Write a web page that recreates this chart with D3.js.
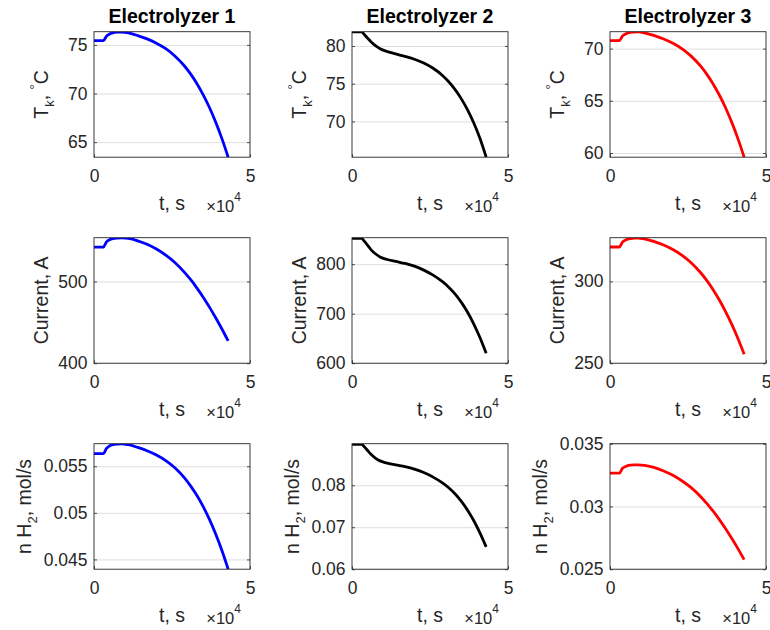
<!DOCTYPE html>
<html>
<head>
<meta charset="utf-8">
<script src="https://cdn.jsdelivr.net/npm/d3@7"></script>
<style>
  body { margin: 0; background: #fff; }
  svg { display: block; font-family: "Liberation Sans", Arial, Helvetica, sans-serif; }
</style>
</head>
<body>
<svg id="fig" width="770" height="630"></svg>
<script>
// Operating time, s
const time = [0, 3000, 4000, 5000, 6000, 7500, 9000, 11000, 14000, 17000, 20000,
              23000, 26000, 29000, 31000, 33000, 35000, 37000, 39000, 41000, 43000];

const electrolyzers = ["Electrolyzer 1", "Electrolyzer 2", "Electrolyzer 3"];

// Stack temperature T_k, °C
const tempE1 = [75.44, 75.44, 75.9, 76.12, 76.24, 76.31, 76.33, 76.23, 75.96, 75.62, 75.18,
                74.61, 73.84, 72.83, 71.99, 71.01, 69.87, 68.56, 67.06, 65.36, 63.45];
const tempE2 = [81.87, 81.87, 81.5, 81.05, 80.6, 80.05, 79.65, 79.3, 78.95, 78.62, 78.25,
                77.75, 77.05, 76.1, 75.26, 74.24, 73.02, 71.56, 69.82, 67.76, 65.26];
const tempE3 = [70.77, 70.77, 71.2, 71.4, 71.52, 71.58, 71.6, 71.51, 71.26, 70.94, 70.53,
                70.0, 69.28, 68.34, 67.56, 66.64, 65.58, 64.36, 62.96, 61.38, 59.6];

// Stack current, A
const currentE1 = [542, 542, 548.5, 551.0, 552.3, 553.0, 553.2, 552.6, 549.7, 545.4, 539.6,
                   532.1, 522.8, 511.1, 502.1, 491.9, 480.7, 468.6, 455.6, 441.8, 427.2];
const currentE2 = [852, 852, 846, 838, 830, 821, 814.5, 810, 805.5, 801.5, 796,
                   788, 777.8, 764.6, 753.6, 740, 723.4, 703.4, 679.6, 651.8, 620];
const currentE3 = [321.03, 321.03, 324.02, 325.31, 326.0, 326.39, 326.5, 326.03, 324.49, 322.4, 319.63,
                   316.06, 311.41, 305.43, 300.63, 295.09, 288.79, 281.73, 273.84, 265.11, 255.5];

// Hydrogen production rate n H2, mol/s
const h2E1 = [0.05635, 0.05635, 0.05691, 0.05719, 0.05732, 0.05739, 0.05741, 0.05731, 0.05702, 0.05667, 0.05621,
              0.05561, 0.05481, 0.05375, 0.05287, 0.05185, 0.05066, 0.04929, 0.04772, 0.04595, 0.04395];
const h2E2 = [0.08976, 0.08976, 0.08913, 0.08828, 0.08744, 0.08649, 0.08581, 0.08533, 0.08486, 0.08444, 0.08386,
              0.08302, 0.08194, 0.08055, 0.07939, 0.07796, 0.07621, 0.0741, 0.0716, 0.06867, 0.06532];
const h2E3 = [0.03265, 0.03265, 0.03304, 0.03319, 0.03327, 0.03331, 0.03332, 0.03328, 0.03311, 0.03285, 0.0325,
              0.03205, 0.0315, 0.0308, 0.03025, 0.02964, 0.02897, 0.02824, 0.02746, 0.02664, 0.02576];

// Axis limits and ticks
const timeLimits = [0, 50000];
const timeTicks = [0, 50000];
const tempLimits = [[63.45, 76.36], [65.25, 81.9], [59.6, 71.62]];
const tempTicks = [[65, 70, 75], [70, 75, 80], [60, 65, 70]];
const currentLimits = [[400, 553.5], [600, 853.5], [250, 326.7]];
const currentTicks = [[400, 500], [600, 700, 800], [250, 300]];
const h2Limits = [[0.04395, 0.05742], [0.06, 0.0899], [0.025, 0.035]];
const h2Ticks = [[0.045, 0.05, 0.055], [0.06, 0.07, 0.08], [0.025, 0.03, 0.035]];

// Styling
const lineColors = ["#0000ff", "#000000", "#ff0000"];
const INK = "#262626";
const GRID = "#dedede";
const W = 156, H = 125.5;
const colLeft = c => 94 + c * 258;
const rowTop = r => 31.7 + r * 206;
const TICK_FS = 17.5, LABEL_FS = 19.5, SUB_FS = 13;

// y-axis label builders (TeX-like sub/superscripts)
function labelTemp(t) {
  t.append("tspan").text("T");
  t.append("tspan").attr("font-size", SUB_FS).attr("dy", 6).text("k");
  t.append("tspan").attr("dy", -6).text(", ");
  t.append("tspan").attr("font-size", SUB_FS).attr("dy", -9).text("°");
  t.append("tspan").attr("dy", 9).text("C");
}
function labelCurrent(t) {
  t.text("Current, A");
}
function labelH2(t) {
  t.append("tspan").text("n H");
  t.append("tspan").attr("font-size", SUB_FS).attr("dy", 6).text("2");
  t.append("tspan").attr("dy", -6).text(", mol/s");
}

const quantities = [
  { series: [tempE1, tempE2, tempE3], limits: tempLimits, ticks: tempTicks, label: labelTemp, gap: 20 },
  { series: [currentE1, currentE2, currentE3], limits: currentLimits, ticks: currentTicks, label: labelCurrent, gap: 10 },
  { series: [h2E1, h2E2, h2E3], limits: h2Limits, ticks: h2Ticks, label: labelH2, gap: 12.5 }
];

const svg = d3.select("#fig");
const x = d3.scaleLinear().domain(timeLimits).range([0, W]);

function styleAxis(a) {
  a.attr("font-size", null).attr("font-family", null);
  a.select(".domain").remove();
  a.selectAll("line").attr("stroke", INK).attr("stroke-width", 0.8);
  a.selectAll("text").attr("fill", INK).style("font-size", TICK_FS + "px");
}

quantities.forEach((q, r) => {
  electrolyzers.forEach((name, c) => {
    const g = svg.append("g").attr("transform", `translate(${colLeft(c)},${rowTop(r)})`);
    const y = d3.scaleLinear().domain(q.limits[c]).range([H, 0]);
    const clipId = `clip-${r}-${c}`;

    g.append("clipPath").attr("id", clipId)
      .append("rect").attr("width", W).attr("height", H);

    // horizontal grid
    g.append("g")
      .call(d3.axisLeft(y).tickValues(q.ticks[c]).tickSize(-W).tickFormat(""))
      .call(a => {
        a.select(".domain").remove();
        a.selectAll("line").attr("stroke", GRID).attr("stroke-width", 1);
      });

    // data curve
    const line = d3.line()
      .x((d, i) => x(time[i]))
      .y(d => y(d))
      .curve(d3.curveMonotoneX);
    g.append("path")
      .datum(q.series[c])
      .attr("clip-path", `url(#${clipId})`)
      .attr("fill", "none")
      .attr("stroke", lineColors[c])
      .attr("stroke-width", 2.8)
      .attr("stroke-linejoin", "round")
      .attr("d", line);

    // axes box
    g.append("rect").attr("width", W).attr("height", H)
      .attr("fill", "none").attr("stroke", INK).attr("stroke-width", 0.9);

    // y axis (inward ticks) with labels, plus mirrored right ticks
    const yAxis = g.append("g")
      .call(d3.axisLeft(y).tickValues(q.ticks[c]).tickSize(-3).tickPadding(6.5).tickFormat(v => String(v)))
      .call(styleAxis);
    g.append("g").attr("transform", `translate(${W},0)`)
      .call(d3.axisRight(y).tickValues(q.ticks[c]).tickSize(-3).tickFormat(""))
      .call(styleAxis);

    // x axis
    g.append("g").attr("transform", `translate(0,${H})`)
      .call(d3.axisBottom(x).tickValues(timeTicks).tickSize(-3).tickPadding(12).tickFormat(v => String(v / 1e4)))
      .call(styleAxis);

    // x label and exponent
    g.append("text").attr("x", W / 2).attr("y", H + 52.5)
      .attr("text-anchor", "middle").attr("fill", INK)
      .style("font-size", LABEL_FS + "px").text("t, s");
    const expo = g.append("text").attr("x", W - 9).attr("y", H + 54.5)
      .attr("text-anchor", "end").attr("fill", INK);
    expo.append("tspan").style("font-size", "16.5px").text("×10");
    expo.append("tspan").attr("dy", -11).style("font-size", "12px").text("4");

    // y label, placed left of the widest tick label
    const minX = d3.min(yAxis.selectAll("text").nodes(), n => n.getBBox().x);
    const yl = g.append("text")
      .attr("transform", `translate(${minX - q.gap},${H / 2}) rotate(-90)`)
      .attr("text-anchor", "middle").attr("fill", INK)
      .style("font-size", LABEL_FS + "px");
    q.label(yl);

    // column title
    if (r === 0) {
      g.append("text").attr("x", W / 2).attr("y", -9)
        .attr("text-anchor", "middle").attr("fill", "#000")
        .style("font-size", LABEL_FS + "px").style("font-weight", "bold")
        .text(name);
    }
  });
});
</script>
</body>
</html>
